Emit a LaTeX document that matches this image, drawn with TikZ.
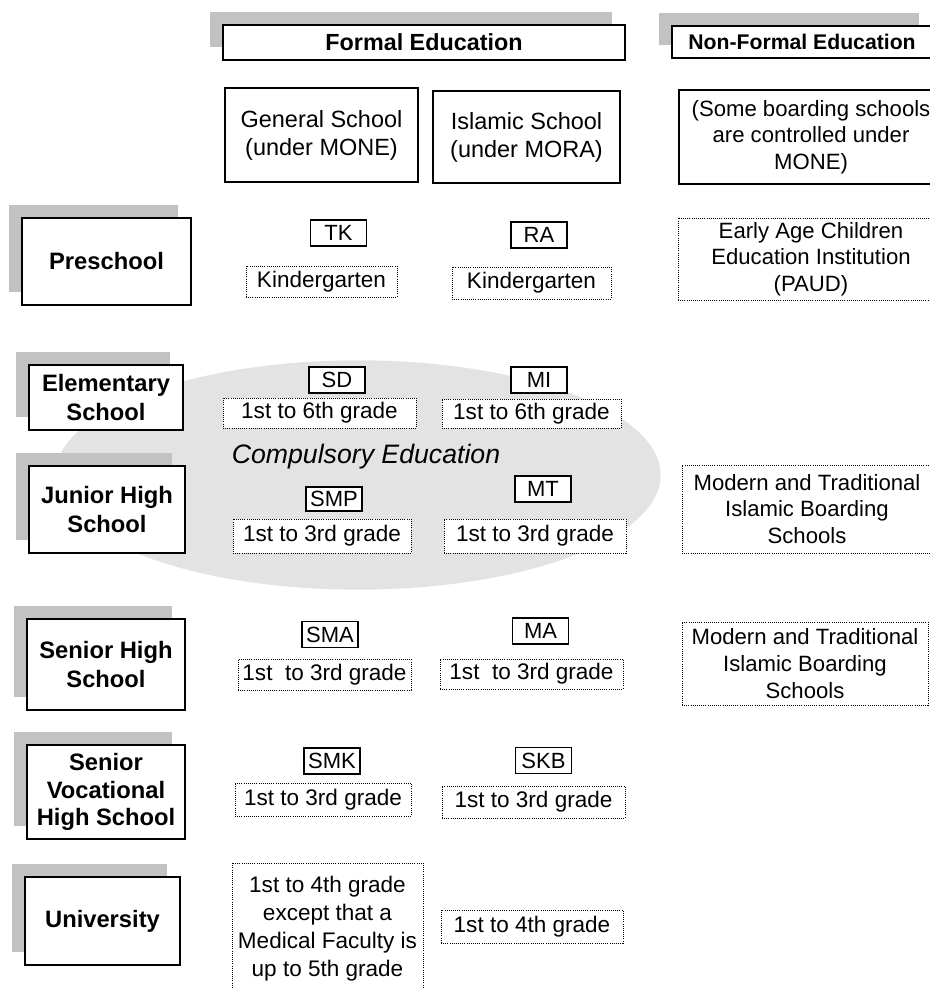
\documentclass[tikz,border=0pt]{standalone}
\usepackage{fontspec}
\setmainfont{Liberation Sans}
\usepackage{tikz}
\usetikzlibrary{shadows}

\begin{document}
\begin{tikzpicture}[x=0.75pt,y=-0.75pt,
	boxsize/.style 2 args={minimum width=#1*0.75pt,minimum height=#2*0.75pt},
	greyshadow/.style={general shadow={fill=black!24,shadow xshift=-9.75pt,shadow yshift=9.75pt}},
	level/.style={draw,line width=1.5pt,fill=white,greyshadow,align=center,inner sep=0pt,
		font=\fontsize{17.8}{22}\selectfont\bfseries},
	head/.style={draw,line width=1.1pt,fill=white,greyshadow,inner sep=0pt,
		font=\fontsize{17.5}{20}\selectfont\bfseries},
	school/.style={draw,line width=1.5pt,align=center,inner sep=0pt,
		font=\fontsize{17.6}{21}\selectfont},
	code/.style={draw,line width=1.2pt,fill=white,inner sep=0pt,boxsize={56}{26},
		font=\fontsize{16.5}{18}\selectfont},
	grade/.style={draw,line width=0.7pt,dash pattern=on 0.7pt off 0.9pt,fill=white,
		align=center,inner sep=0pt,font=\fontsize{16.9}{20.5}\selectfont}
	]
	\useasboundingbox (0,0) rectangle (930,988);

	% compulsory education
	\fill[black!11] (358,475) ellipse [x radius=227pt,y radius=86pt];
	\node (comp) at (366,457) {\fontsize{20}{22}\selectfont\itshape Compulsory Education};

	\node[head,boxsize={402}{35}] (formal) at (424,42.5) {Formal Education};
	\node[head,boxsize={260}{32},font=\fontsize{15.9}{18}\selectfont\bfseries] (nonformal) at (802,42) {Non-Formal Education};

	\node[school,boxsize={193}{94}] (general) at (321.5,135) {General School\\(under MONE)};
	\node[school,boxsize={187}{92}] (islamic) at (526.5,137) {Islamic School\\(under MORA)};
	\node[school,boxsize={264}{94},font=\fontsize{16.6}{20}\selectfont] (boarding) at (811,137) {(Some boarding schools\\are controlled under\\MONE)};

	% levels
	\node[level,boxsize={169}{87}] (pre) at (106.5,261.5) {Preschool};
	\node[level,boxsize={154}{65}] (elem) at (106,397.5) {Elementary\\School};
	\node[level,boxsize={156}{87}] (junior) at (107,509.5) {Junior High\\School};
	\node[level,boxsize={158}{91}] (senior) at (106,664.5) {Senior High\\School};
	\node[level,boxsize={158}{94},font=\fontsize{17.8}{20.5}\selectfont\bfseries] (voc) at (106,792) {Senior\\Vocational\\High School};
	\node[level,boxsize={155}{88}] (univ) at (102.5,921) {University};

	\node[code] (TK) at (338.5,233) {TK};
	\node[code] (RA) at (539,235) {RA};
	\node[code] (SD) at (337,380) {SD};
	\node[code] (MI) at (539,380) {MI};
	\node[code,boxsize={56}{24}] (SMP) at (334,499) {SMP};
	\node[code] (MT) at (543,489) {MT};
	\node[code] (SMA) at (330,634.5) {SMA};
	\node[code] (MA) at (540.5,631) {MA};
	\node[code] (SMK) at (332,761) {SMK};
	\node[code] (SKB) at (543.5,760.5) {SKB};

	\node[grade,boxsize={151}{31}] (TK') at (321.5,281.5) {Kindergarten};
	\node[grade,boxsize={159}{32}] (RA') at (531.5,283) {Kindergarten};
	\node[grade,boxsize={193}{30}] (SD') at (319.5,413) {1st to 6th grade};
	\node[grade,boxsize={179}{29}] (MI') at (531.5,413.5) {1st to 6th grade};
	\node[grade,boxsize={178}{34}] (SMP') at (322,536) {1st to 3rd grade};
	\node[grade,boxsize={182}{34}] (MT') at (535,536) {1st to 3rd grade};
	\node[grade,boxsize={173}{31}] (SMA') at (324.5,674.5) {1st\ \ to 3rd grade};
	\node[grade,boxsize={183}{30}] (MA') at (531.5,674) {1st\ \ to 3rd grade};
	\node[grade,boxsize={176}{33}] (SMK') at (323,799.5) {1st to 3rd grade};
	\node[grade,boxsize={183}{32}] (SKB') at (533.5,802) {1st to 3rd grade};
	\node[grade,boxsize={191}{132},font=\fontsize{16.9}{21}\selectfont] (univ') at (327.5,929) {1st to 4th grade\\except that a\\Medical Faculty is\\up to 5th grade};
	\node[grade,boxsize={182}{33}] (univ'') at (532,926.5) {1st to 4th grade};

	\node[grade,boxsize={266}{82},font=\fontsize{16.6}{20}\selectfont] (paud) at (811,259) {Early Age Children\\Education Institution\\(PAUD)};
	\node[grade,boxsize={250}{88},font=\fontsize{16.6}{20}\selectfont] (pesantren) at (807,509) {Modern and Traditional\\Islamic Boarding\\Schools};
	\node[grade,boxsize={246}{83},font=\fontsize{16.6}{20}\selectfont] (pesantren') at (805,663.5) {Modern and Traditional\\Islamic Boarding\\Schools};
\end{tikzpicture}
\end{document}
